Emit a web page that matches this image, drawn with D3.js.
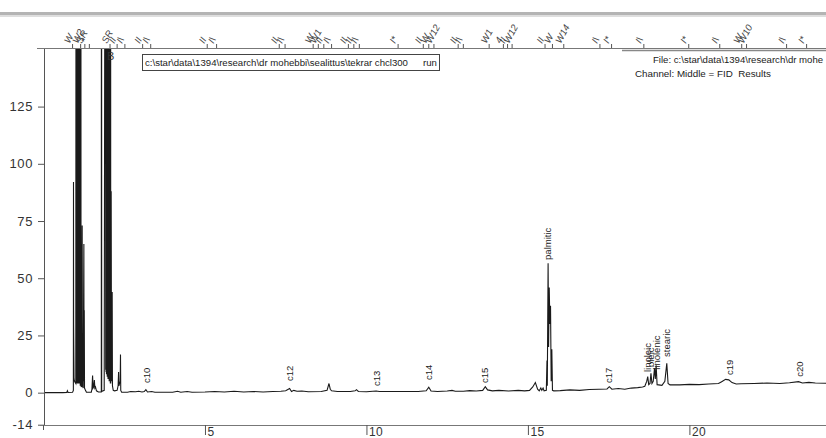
<!DOCTYPE html>
<html><head><meta charset="utf-8">
<script src="https://cdn.jsdelivr.net/npm/d3@7"></script>
<style>
body{margin:0;background:#fff;}
svg{display:block;font-family:"Liberation Sans",Arial,sans-serif;}
text{white-space:pre;}
</style></head>
<body><svg id="c" width="826" height="438"></svg>
<script>
// ---- data (time in min, response in mV) ----
const xTicks = [5, 10, 15, 20];
const yTicks = [-14, 0, 25, 50, 75, 100, 125];

const trace = [
 [0,0],[0.60,0.0],[0.72,0.1],[0.74,0.8],[0.76,0.1],[0.90,0.2],[0.925,1.0],[0.929,92],[0.933,30],[0.945,6],[0.960,5],[1.000,4],
 [1.012,400],[1.018,5],[1.024,400],[1.030,4],[1.036,400],[1.042,5],[1.048,400],[1.054,4],[1.060,400],[1.066,5],[1.072,400],[1.078,4],
 [1.084,400],[1.090,5],[1.096,400],[1.102,4],[1.108,400],[1.114,5],[1.120,400],[1.126,4],[1.132,400],[1.138,3],[1.144,400],[1.150,3],
 [1.156,400],[1.162,3],
 [1.175,2.5],[1.198,73],[1.205,3],[1.230,2],[1.250,65],[1.256,5],[1.262,36],[1.270,2],[1.300,1],[1.330,0.2],[1.480,0.2],
 [1.500,1.5],[1.520,7.5],[1.535,2],[1.555,2.5],[1.575,5.5],[1.590,2],[1.610,2.5],[1.640,0.8],[1.700,0.3],[1.790,0.3],
 [1.796,400],[1.802,0.5],[1.880,1.0],
 [1.920,400],[1.926,10],[1.932,400],[1.938,9],[1.944,400],[1.950,8],[1.956,400],[1.962,8],[1.968,400],[1.974,7],
 [1.980,400],[1.986,7],[1.992,400],[1.998,6],[2.004,400],[2.010,6],[2.016,400],[2.022,6],[2.028,400],[2.034,5],
 [2.040,400],[2.046,5],[2.052,400],[2.058,5],[2.064,400],[2.070,4],[2.076,400],[2.082,4],
 [2.096,88],[2.105,5],[2.127,44],[2.135,3],[2.16,1],[2.20,0.8],[2.28,1.0],[2.31,3],[2.325,9],[2.335,3],[2.375,5],[2.384,16.7],[2.392,1],
 [2.42,0.2],[2.60,0.2],[2.70,0.5],[2.85,0.4],[2.95,0.6],[3.05,0.3],[3.12,0.5],[3.17,1.3],[3.22,0.3],[3.35,0.5],[3.45,0.2],
 [4.0,0.2],[4.15,0.6],[4.25,0.2],[4.45,0.5],[4.6,0.2],[5.0,0.3],[5.3,0.5],[5.6,0.3],[5.9,0.6],[6.2,0.3],[6.5,0.5],[6.8,0.3],
 [7.1,0.5],[7.35,0.6],[7.5,0.8],[7.62,1.8],[7.68,0.5],[7.75,1.0],[7.85,0.6],[8.0,0.7],[8.2,0.4],[8.6,0.5],[8.78,1.0],[8.84,4.0],
 [8.88,1.5],[8.92,0.8],[9.1,0.5],[9.5,0.5],[9.65,0.8],[9.69,1.3],[9.75,0.5],[10.0,0.4],[10.3,0.7],[10.4,0.5],[11.0,0.5],
 [11.6,0.5],[11.85,0.8],[11.93,2.4],[12.0,0.7],[12.2,0.5],[12.5,0.7],[12.65,1.0],[12.75,0.6],[13.0,0.6],[13.2,0.9],[13.4,0.7],
 [13.6,1.0],[13.68,2.6],[13.75,1.2],[13.9,0.8],[14.1,1.0],[14.4,0.7],[14.7,1.0],[14.9,0.8],[15.05,1.0],[15.15,2.5],[15.23,4.4],
 [15.30,1.5],[15.35,0.8],[15.40,2.0],[15.43,1.0],[15.47,2.0],[15.50,0.8],
 [15.57,1.0],[15.59,14],[15.60,3],[15.625,56.5],[15.64,20],[15.66,46],[15.68,30],[15.70,38],[15.72,5],[15.74,19],[15.76,1.0],[15.80,0.8],
 [16.0,0.9],[16.3,1.2],[16.6,1.0],[16.9,1.4],[17.2,1.5],[17.45,1.6],[17.52,2.6],[17.6,1.5],[17.8,1.8],[18.0,1.5],[18.2,2.0],[18.4,2.2],[18.55,2.5],
 [18.62,2.8],[18.68,5],[18.71,7],[18.74,3.5],[18.78,4],[18.81,8.5],[18.84,4],[18.88,5],[18.92,10.6],[18.945,6],[18.97,12],[19.00,3.5],
 [19.15,3.2],[19.24,5],[19.30,12.8],[19.34,4],[19.40,3.4],[19.7,3.4],[20.0,3.6],[20.3,3.5],[20.6,3.8],[20.9,4.0],[21.0,4.8],
 [21.12,5.8],[21.22,5.6],[21.32,4.4],[21.45,3.8],[21.6,3.9],[22.0,4.0],[22.4,4.2],[22.8,4.0],[23.1,4.3],[23.38,4.8],[23.5,4.2],
 [23.7,4.5],[23.9,4.2],[24.3,4.1]
];

const peakNames  = ["c10","c12","c13","c14","c15","palmitic","c17","linoleic","oleic","linolenic","stearic","c19","c20"];
const peakTimes  = [3.19, 7.63, 10.32, 11.93, 13.67, 15.62, 17.51, 18.69, 18.81, 18.98, 19.30, 21.23, 23.42];
const peakLabelY = [4.2, 5.1, 2.9, 5.5, 4.2, 58, 4.2, 9, 11.2, 10, 15.6, 7.7, 6.9];

const eventTimes = [0.90,1.15,1.28,1.42,2.06,2.28,2.52,3.07,3.32,5.07,5.36,7.30,7.48,8.35,8.51,8.68,8.92,9.44,9.61,9.78,
 10.98,11.76,11.93,12.09,12.84,13.00,13.80,14.24,14.37,14.51,15.53,15.76,16.11,17.23,17.59,18.59,19.98,20.94,21.62,21.77,23.01,23.63];
const eventLabels = ["W","W2","SR","*","SR","II","I\\","II","I\\","II","I\\","II","I\\","W","W1","II","I\\","II","II","I\\",
 "I*","II","W","W12","II","I\\","W1","4","II","W12","II","W","W14","I\\","I*","I\\","I*","I\\","W","W10","I\\","I*"];

const fileText = "File: c:\\star\\data\\1394\\research\\dr mohe";
const channelText = "Channel: Middle = FID  Results";
const boxText = "c:\\star\\data\\1394\\research\\dr mohebbi\\sealittus\\tekrar chcl300";
const boxRun = "run";

// ---- drawing ----
const svg = d3.select("#c");
const x = d3.scaleLinear().domain([0, 24.23]).range([43.5, 826]);
const y = d3.scaleLinear().domain([-14, 150.6]).range([424.7, 48]);

// top window band
svg.append("rect").attr("x",0).attr("y",12).attr("width",826).attr("height",3).attr("fill","#b4b4b4");
svg.append("rect").attr("x",0).attr("y",15).attr("width",826).attr("height",2).attr("fill","#dedede");

svg.append("defs").append("clipPath").attr("id","pc")
  .append("rect").attr("x",44).attr("y",48).attr("width",782).attr("height",377);

// trace
svg.append("path").datum(trace)
  .attr("clip-path","url(#pc)")
  .attr("fill","none").attr("stroke","#1a1a1a").attr("stroke-width",1.1)
  .attr("d", d3.line().x(d=>x(d[0])).y(d=>y(d[1])));

// y axis
const ya = svg.append("g").attr("transform","translate(44,0)")
  .call(d3.axisLeft(y).tickValues(yTicks).tickFormat(d=>String(d)).tickSize(6).tickSizeOuter(0).tickPadding(5));
ya.select(".domain").attr("stroke","#555");
ya.selectAll(".tick line").attr("stroke","#555");
ya.selectAll("text").attr("font-size",13).attr("fill","#333").attr("letter-spacing","0.6px")
  .attr("font-family","'Liberation Sans',Arial,sans-serif");

// x axis
const xa = svg.append("g").attr("transform","translate(0,425)")
  .call(d3.axisBottom(x).tickValues(xTicks).tickFormat(d=>String(d)).tickSize(10).tickSizeOuter(0));
xa.select(".domain").attr("stroke","#777").attr("d","M40,0.5H826");
xa.selectAll(".tick line").attr("stroke","#555");
xa.selectAll("text").attr("font-size",12).attr("fill","#333").attr("text-anchor","start")
  .attr("x",2).attr("y",10.5).attr("dy",0).attr("letter-spacing","0.5px")
  .attr("font-family","'Liberation Sans',Arial,sans-serif");
svg.append("line").attr("x1",x(0)).attr("x2",x(0)).attr("y1",425).attr("y2",430).attr("stroke","#555");

// top event line
svg.append("line").attr("x1",37).attr("x2",826).attr("y1",48.5).attr("y2",48.5).attr("stroke","#777");
const ev = svg.append("g").selectAll("g").data(eventTimes).join("g")
  .attr("transform", d=>`translate(${x(d)},48)`);
ev.append("line").attr("y1",0).attr("y2",-4).attr("stroke","#555");
ev.append("text").text((d,i)=>eventLabels[i])
  .attr("transform","translate(-3,-4) rotate(-62)")
  .attr("font-size",9.5).attr("fill","#444").attr("font-style","italic");

// header right
svg.append("line").attr("x1",622).attr("x2",826).attr("y1",50.5).attr("y2",50.5).attr("stroke","#888").attr("stroke-width",1.6);
svg.append("text").attr("x",653).attr("y",63).attr("font-size",9.6).attr("fill","#222").text(fileText);
svg.append("text").attr("x",635).attr("y",77).attr("font-size",9.8).attr("fill","#222").text(channelText);

// path box
svg.append("rect").attr("x",142.5).attr("y",54.5).attr("width",297).attr("height",16)
  .attr("fill","#fff").attr("stroke","#444");
svg.append("text").attr("x",145).attr("y",66).attr("font-size",9.6).attr("fill","#222").text(boxText);
svg.append("text").attr("x",423).attr("y",66).attr("font-size",9.6).attr("fill","#222").text(boxRun);

// B marker near solvent
svg.append("text").attr("x",107).attr("y",60).attr("font-size",11).attr("fill","#333").text("B");

// peak labels
svg.append("g").selectAll("text").data(peakNames).join("text")
  .text(d=>d)
  .attr("transform",(d,i)=>`translate(${x(peakTimes[i])+3.5},${y(peakLabelY[i])}) rotate(-90)`)
  .attr("font-size",9.5).attr("fill","#222");
</script></body></html>
